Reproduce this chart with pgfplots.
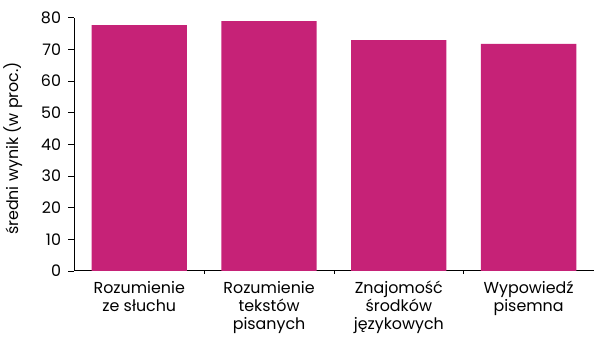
\documentclass[border=0pt]{standalone}
\usepackage{pgfplots}
\pgfplotsset{compat=1.18}
\usepackage{fontspec}
\setmainfont{Poppins}
\definecolor{barmag}{RGB}{198,34,119}
\begin{document}
\begin{tikzpicture}[x=1pt,y=1pt]
\begin{axis}[
  name=ax,
  at={(0,0)}, anchor=south west,
  scale only axis,
  width=523pt, height=255pt,
  xmin=-0.5, xmax=3.5,
  ymin=0, ymax=80,
  ytick={0,10,...,80},
  xtick={0,1,2,3},
  xticklabels={{Rozumienie\\ze słuchu},{Rozumienie\\tekstów\\pisanych},{Znajomość\\środków\\językowych},{Wypowiedź\\pisemna}},
  minor xtick={0.5,1.5,2.5},
  axis x line*=bottom,
  axis y line*=left,
  tick align=outside,
  xtick style={draw=none},
  ytick style={draw=black, line width=0.8pt},
  minor x tick style={draw=black, line width=0.8pt},
  major tick length=6pt,
  minor tick length=3pt,
  axis line style={black, line width=1pt},
  ybar, bar width=96pt,
  /pgf/number format/assume math mode=true,
  tick label style={font=\fontsize{16}{18}\selectfont},
  yticklabel style={xshift=-4pt},
  xticklabel style={align=center, yshift=-1pt},
  ylabel={średni wynik (w proc.)},
  ylabel style={font=\fontsize{16}{18}\selectfont, at={(axis description cs:0,0.484)}, anchor=south, yshift=49pt},
  clip=false,
]
\addplot[fill=barmag, draw=none] coordinates {(0,77.7) (1,79.0) (2,73.0) (3,71.8)};
\end{axis}
\useasboundingbox (-71,-62) rectangle (523,273);
\end{tikzpicture}
\end{document}
